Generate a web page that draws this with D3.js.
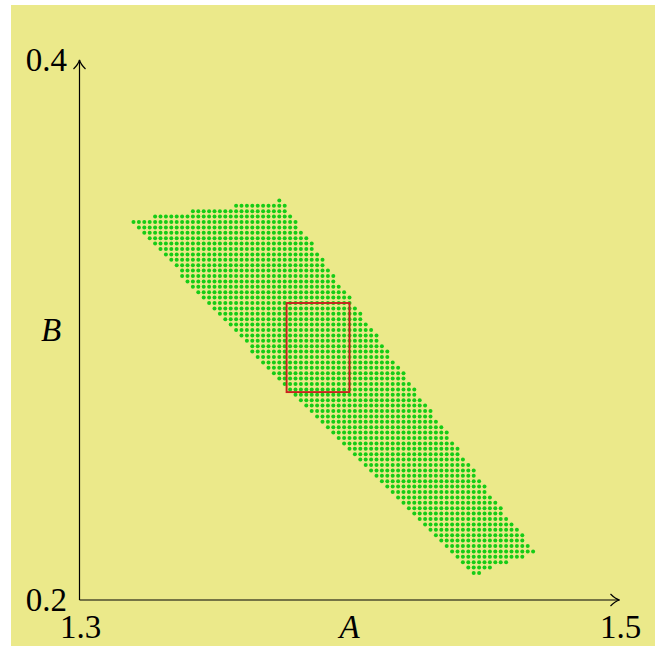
<!DOCTYPE html>
<html>
<head>
<meta charset="utf-8">
<script src="https://cdn.jsdelivr.net/npm/d3@7"></script>
<style>
  html, body { margin: 0; padding: 0; background: #ffffff; }
  svg { display: block; }
  text { font-family: "Liberation Serif", "DejaVu Serif", serif; fill: #000; }
</style>
</head>
<body>
<svg id="chart" width="661" height="650"></svg>
<script>
// Axis ranges and tick labels
const xDomain = [1.3, 1.5];
const yDomain = [0.2, 0.4];
const xTicks = [1.3, 1.5];
const yTicks = [0.2, 0.4];
const xTickLabels = ["1.3", "1.5"];
const yTickLabels = ["0.2", "0.4"];
const xAxisTitle = "A";
const yAxisTitle = "B";

// Sampled feasible points: one row per B value, filled at a fixed A step
const gridStep = 0.002;
const rowB = [
  0.348, 0.346, 0.344, 0.342, 0.340, 0.338, 0.336, 0.334, 0.332, 0.330,
  0.328, 0.326, 0.324, 0.322, 0.320, 0.318, 0.316, 0.314, 0.312, 0.310,
  0.308, 0.306, 0.304, 0.302, 0.300, 0.298, 0.296, 0.294, 0.292, 0.290,
  0.288, 0.286, 0.284, 0.282, 0.280, 0.278, 0.276, 0.274, 0.272, 0.270,
  0.268, 0.266, 0.264, 0.262, 0.260, 0.258, 0.256, 0.254, 0.252, 0.250,
  0.248, 0.246, 0.244, 0.242, 0.240, 0.238, 0.236, 0.234, 0.232, 0.230,
  0.228, 0.226, 0.224, 0.222, 0.220, 0.218, 0.216, 0.214, 0.212, 0.210
];
const rowAStart = [
  1.374, 1.358, 1.342, 1.328, 1.320, 1.322, 1.324, 1.326, 1.328, 1.330,
  1.332, 1.334, 1.336, 1.338, 1.338, 1.340, 1.342, 1.344, 1.346, 1.348,
  1.350, 1.352, 1.354, 1.356, 1.358, 1.360, 1.362, 1.364, 1.364, 1.366,
  1.368, 1.370, 1.372, 1.374, 1.376, 1.378, 1.380, 1.382, 1.384, 1.386,
  1.388, 1.390, 1.392, 1.394, 1.396, 1.398, 1.400, 1.402, 1.404, 1.406,
  1.408, 1.410, 1.412, 1.414, 1.416, 1.418, 1.420, 1.422, 1.424, 1.426,
  1.428, 1.430, 1.432, 1.434, 1.436, 1.438, 1.440, 1.442, 1.444, 1.446
];
const rowAEnd = [
  1.374, 1.376, 1.376, 1.378, 1.380, 1.380, 1.382, 1.384, 1.386, 1.386,
  1.388, 1.390, 1.390, 1.392, 1.394, 1.394, 1.396, 1.398, 1.400, 1.400,
  1.402, 1.404, 1.404, 1.406, 1.408, 1.410, 1.410, 1.412, 1.414, 1.414,
  1.416, 1.418, 1.420, 1.420, 1.422, 1.424, 1.424, 1.426, 1.428, 1.430,
  1.430, 1.432, 1.434, 1.436, 1.436, 1.438, 1.440, 1.440, 1.442, 1.444,
  1.446, 1.446, 1.448, 1.450, 1.450, 1.452, 1.454, 1.456, 1.456, 1.458,
  1.460, 1.462, 1.464, 1.464, 1.466, 1.468, 1.464, 1.458, 1.452, 1.448
];

// Highlighted box [A0, A1] x [B0, B1]
const boxA = [1.3767, 1.400];
const boxB = [0.277, 0.310];

const svg = d3.select("#chart");

// Panel background
svg.append("rect")
  .attr("x", 11).attr("y", 5)
  .attr("width", 644).attr("height", 641)
  .attr("fill", "#ebe98a");

const x = d3.scaleLinear().domain(xDomain).range([79.5, 619.5]);
const y = d3.scaleLinear().domain(yDomain).range([600, 60]);

// Expand rows into individual points
const points = [];
rowB.forEach((b, k) => {
  const n = Math.round((rowAEnd[k] - rowAStart[k]) / gridStep);
  for (let i = 0; i <= n; i++) {
    points.push({ a: rowAStart[k] + i * gridStep, b: b });
  }
});

svg.append("g")
  .selectAll("circle")
  .data(points)
  .join("circle")
  .attr("cx", d => x(d.a))
  .attr("cy", d => y(d.b))
  .attr("r", 2.0)
  .attr("fill", "#16cc16");

// Highlighted box
svg.append("rect")
  .attr("x", x(boxA[0]))
  .attr("y", y(boxB[1]))
  .attr("width", x(boxA[1]) - x(boxA[0]))
  .attr("height", y(boxB[0]) - y(boxB[1]))
  .attr("fill", "none")
  .attr("stroke", "#c8221e")
  .attr("stroke-width", 1.9);

// Axes with open arrow heads
const axisG = svg.append("g").attr("stroke", "#000").attr("stroke-width", 1.2).attr("fill", "none");
const x0 = x(xDomain[0]), x1 = x(xDomain[1]);
const y0 = y(yDomain[0]), y1 = y(yDomain[1]);
axisG.append("line").attr("x1", x0).attr("y1", y0).attr("x2", x1).attr("y2", y0);
axisG.append("line").attr("x1", x0).attr("y1", y0).attr("x2", x0).attr("y2", y1);
axisG.append("path")
  .attr("d", `M${x1 - 9},${y0 - 6} Q${x1 - 4},${y0 - 1} ${x1},${y0} Q${x1 - 4},${y0 + 1} ${x1 - 9},${y0 + 6}`);
axisG.append("path")
  .attr("d", `M${x0 - 6},${y1 + 9} Q${x0 - 1},${y1 + 4} ${x0},${y1} Q${x0 + 1},${y1 + 4} ${x0 + 6},${y1 + 9}`);

// Tick labels
svg.append("g").selectAll("text")
  .data(xTicks)
  .join("text")
  .attr("x", d => x(d) + 1)
  .attr("y", 638)
  .attr("text-anchor", "middle")
  .attr("font-size", 33)
  .text((d, i) => xTickLabels[i]);

svg.append("g").selectAll("text")
  .data(yTicks)
  .join("text")
  .attr("x", 67)
  .attr("y", d => y(d) + 11)
  .attr("text-anchor", "end")
  .attr("font-size", 33)
  .text((d, i) => yTickLabels[i]);

// Axis titles
svg.append("text")
  .attr("x", x((xDomain[0] + xDomain[1]) / 2))
  .attr("y", 638)
  .attr("text-anchor", "middle")
  .attr("font-size", 33)
  .attr("font-style", "italic")
  .text(xAxisTitle);

svg.append("text")
  .attr("x", 51)
  .attr("y", y((yDomain[0] + yDomain[1]) / 2) + 11)
  .attr("text-anchor", "middle")
  .attr("font-size", 33)
  .attr("font-style", "italic")
  .text(yAxisTitle);
</script>
</body>
</html>
